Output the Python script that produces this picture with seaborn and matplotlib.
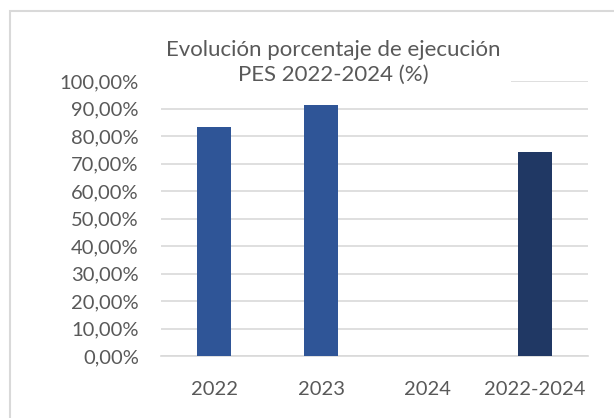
import matplotlib
matplotlib.use('Agg')
import matplotlib.pyplot as plt
import seaborn as sns
import pandas as pd
from matplotlib.patches import Rectangle
from matplotlib.ticker import FuncFormatter

categorias = ['2022', '2023', '2024', '2022-2024']
ejecucion = [83.3, 91.3, 0.0, 74.2]
colores = ['#2F5597', '#2F5597', '#2F5597', '#203864']
titulo = 'Evolución porcentaje de ejecución\nPES 2022-2024 (%)'

df = pd.DataFrame({'periodo': categorias, 'pct': ejecucion})

sns.set_style('white')
plt.rcParams['font.family'] = ['Lato', 'DejaVu Sans']

W, H = 614, 418
fig = plt.figure(figsize=(W / 100, H / 100), dpi=100)
ax = fig.add_axes([161 / W, 1 - 356 / H, (588 - 161) / W, (356 - 81) / H])

sns.barplot(data=df, x='periodo', y='pct', hue='periodo', palette=colores,
            legend=False, width=0.32, saturation=1, linewidth=0, ax=ax, zorder=3)

ax.set_ylim(0, 100)
ax.set_xlim(-0.5, 3.5)
ax.set_yticks(range(0, 101, 10))
ax.yaxis.set_major_formatter(FuncFormatter(lambda v, p: f'{v:.2f}'.replace('.', ',') + '%'))
ax.grid(axis='y', color='#D9D9D9', linewidth=1.2, zorder=0)
for s in ['top', 'right', 'left']:
    ax.spines[s].set_visible(False)
ax.spines['bottom'].set_color('#D9D9D9')
ax.spines['bottom'].set_linewidth(1.2)
ax.tick_params(axis='both', length=0, labelsize=14.5, colors='#595959')
ax.tick_params(axis='x', pad=18)
ax.tick_params(axis='y', pad=16)
ax.set_xlabel('')
ax.set_ylabel('')

fig.text(333 / W, 1 - 62 / H, titulo, ha='center', va='center', fontsize=16,
         color='#595959', linespacing=1.3,
         bbox=dict(facecolor='white', edgecolor='none', pad=8), zorder=5)

fig.patches.append(Rectangle((10 / W, -0.05), 1.05, 1 - 11 / H + 0.05,
                             transform=fig.transFigure, fill=False,
                             edgecolor='#D9D9D9', linewidth=1.5))

fig.savefig('out.png', dpi=100)
